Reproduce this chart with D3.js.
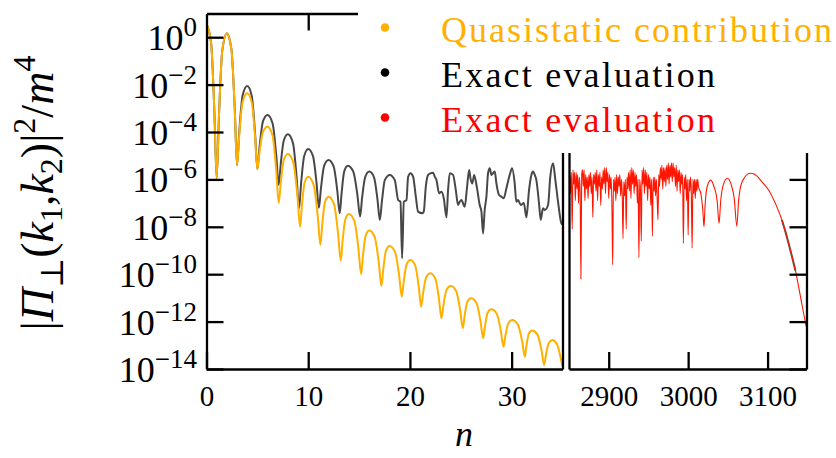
<!DOCTYPE html>
<html>
<head>
<meta charset="utf-8">
<script src="https://cdn.jsdelivr.net/npm/d3@7"></script>
<style>
  body { margin: 0; background: #fff; }
  svg { display: block; }
  text { font-family: "Liberation Serif", "DejaVu Serif", serif; }
</style>
</head>
<body>
<svg id="chart" width="836" height="458"></svg>
<script>
// values are [n, log10 |Pi|^2/m^4]
const quasistatic = [
  [0,0.55],[0.45,-0.23],[0.78,-3.22],[1,-5.95],[1.22,-3.38],[1.55,-0.57],
  [2,0.16],[2.45,-0.51],[2.78,-3.06],[3,-5.4],[3.22,-4.13],[3.55,-2.73],
  [4,-2.37],[4.45,-2.75],[4.78,-4.23],[5,-5.57],[5.22,-4.82],[5.55,-3.99],
  [6,-3.78],[6.5,-4.17],[6.86,-5.65],[7.1,-7.0],[7.3,-6.13],[7.6,-5.18],
  [8,-4.93],[8.54,-5.3],[8.94,-6.71],[9.2,-8.0],[9.38,-7.11],[9.64,-6.14],
  [10,-5.89],[10.54,-6.24],[10.94,-7.56],[11.2,-8.77],[11.38,-7.91],[11.64,-6.97],
  [12,-6.73],[12.54,-7.05],[12.94,-8.3],[13.2,-9.43],[13.38,-8.6],[13.64,-7.7],
  [14,-7.46],[14.54,-7.76],[14.94,-8.93],[15.2,-10.0],[15.38,-9.23],[15.64,-8.38],
  [16,-8.16],[16.54,-8.44],[16.94,-9.52],[17.2,-10.5],[17.38,-9.79],[17.64,-9.01],
  [18,-8.81],[18.54,-9.07],[18.94,-10.05],[19.2,-10.95],[19.39,-10.3],[19.67,-9.59],
  [20.05,-9.4],[20.52,-9.64],[20.87,-10.54],[21.1,-11.37],[21.3,-10.78],[21.6,-10.13],
  [22,-9.96],[22.5,-10.19],[22.86,-11.06],[23.1,-11.86],[23.3,-11.29],[23.6,-10.66],
  [24,-10.5],[24.54,-10.71],[24.94,-11.53],[25.2,-12.28],[25.38,-11.75],[25.64,-11.17],
  [26,-11.02],[26.54,-11.22],[26.94,-11.99],[27.2,-12.7],[27.38,-12.19],[27.64,-11.63],
  [28,-11.48],[28.54,-11.67],[28.94,-12.4],[29.2,-13.06],[29.39,-12.59],[29.67,-12.07],
  [30.05,-11.93],[30.61,-12.12],[31.03,-12.83],[31.3,-13.48],[31.45,-13.02],[31.69,-12.51],
  [32,-12.38],[32.54,-12.55],[32.94,-13.22],[33.2,-13.83],[33.38,-13.39],[33.64,-12.91],
  [34,-12.78],[34.45,-12.95],[34.78,-13.45],[35,-13.9]
];

const exactLow = [
  [0,0.55],[0.45,-0.23],[0.78,-3.22],[1,-5.95],[1.22,-3.38],[1.55,-0.57],
  [2,0.16],[2.45,-0.51],[2.78,-3.06],[3,-5.4],[3.22,-4.0],[3.55,-2.46],
  [4,-2.06],[4.45,-2.48],[4.78,-4.1],[5,-5.57],[5.22,-4.61],[5.55,-3.55],
  [6,-3.28],[6.5,-3.64],[6.86,-5.0],[7.1,-6.24],[7.3,-5.34],[7.6,-4.36],
  [8,-4.1],[8.5,-4.47],[8.86,-5.91],[9.1,-7.22],[9.3,-6.17],[9.6,-5.02],
  [10,-4.72],[10.47,-5.02],[10.82,-6.16],[11.05,-7.2],[11.26,-6.35],[11.57,-5.42],
  [12,-5.18],[12.5,-5.45],[12.86,-6.48],[13.1,-7.43],[13.28,-6.59],[13.54,-5.66],
  [13.9,-5.42],[14.44,-5.68],[14.84,-6.67],[15.1,-7.57],[15.3,-6.77],[15.6,-5.9],
  [16,-5.67],[16.47,-5.91],[16.81,-6.85],[17.04,-7.71],[17.25,-6.91],[17.53,-6.03],
  [18.02,-5.81],[18.51,-6.03],[18.84,-6.87],[19.07,-6.94],[19.23,-9.33],[19.4,-6.94],
  [19.66,-6.87],[19.82,-5.9],[20.05,-5.74],[20.31,-5.88],[20.58,-6.73],[20.8,-7.36],
  [21.23,-7.43],[21.36,-7.36],[21.56,-6.31],[21.79,-5.81],[22,-5.75],[22.28,-5.72],
  [22.44,-5.88],[22.61,-6.03],[22.87,-6.59],[23.1,-6.52],[23.33,-6.8],[23.59,-7.6],
  [23.75,-6.45],[23.92,-5.74],[24.24,-5.81],[24.51,-6.45],[24.73,-7.08],[24.9,-6.94],
  [25.06,-6.87],[25.39,-7.15],[25.62,-6.31],[25.82,-5.6],[25.95,-5.95],[26.14,-6.17],
  [26.31,-5.81],[26.6,-6.38],[26.86,-7.08],[27.03,-7.36],[27.19,-8.28],[27.35,-7.29],
  [27.52,-6.73],[27.68,-5.74],[27.85,-5.53],[28.01,-5.81],[28.17,-5.74],[28.34,-5.67],
  [28.5,-6.17],[28.76,-6.66],[28.99,-6.73],[29.22,-6.8],[29.48,-6.38],[29.81,-5.81],
  [30.04,-5.53],[30.3,-6.17],[30.46,-6.94],[30.63,-6.87],[30.9,-7.08],[31.2,-7.0],
  [31.45,-7.6],[31.71,-6.45],[31.94,-5.81],[32.1,-5.67],[32.27,-5.81],[32.43,-6.03],
  [32.69,-7.0],[32.86,-7.71],[33.08,-7.22],[33.25,-7.29],[33.58,-7.08],[33.8,-5.88],
  [34.07,-5.32],[34.3,-6.03],[34.56,-6.94],[34.89,-7.85],[35,-7.9]
];

const exactHigh = [
  [2850,-6.3],[2851,-5.8],[2852,-6.6],[2853,-5.7],[2854,-8.1],[2855,-5.6],[2856,-6.2],
  [2857,-5.7],[2858,-6.9],[2859,-5.7],[2860,-6.4],[2861,-5.8],[2862,-7.0],[2863,-5.9],
  [2864,-6.5],[2865,-10.2],[2866,-5.8],[2867,-5.6],[2868,-6.3],[2869,-5.6],[2870,-6.9],
  [2871,-5.8],[2872,-6.4],[2873,-5.9],[2874,-6.8],[2875,-5.8],[2876,-6.3],[2877,-5.7],
  [2878,-6.6],[2879,-5.9],[2880,-7.6],[2881,-5.8],[2882,-6.2],[2883,-5.7],[2884,-6.5],
  [2885,-5.6],[2886,-6.9],[2887,-5.8],[2888,-6.3],[2889,-5.7],[2890,-7.1],[2891,-5.9],
  [2892,-6.4],[2893,-5.6],[2894,-6.2],[2895,-5.5],[2896,-6.6],[2897,-5.5],[2898,-6.1],
  [2899,-5.7],[2900,-6.8],[2901,-5.8],[2902,-6.4],[2903,-5.9],[2904,-7.0],[2905,-9.6],
  [2906,-6.0],[2907,-6.5],[2908,-5.9],[2909,-6.9],[2910,-5.8],[2911,-6.6],[2912,-5.9],
  [2913,-6.3],[2914,-5.8],[2915,-6.7],[2916,-6.0],[2917,-6.6],[2918,-8.5],[2919,-6.1],
  [2920,-6.7],[2921,-6.0],[2922,-8.1],[2923,-5.9],[2924,-6.4],[2925,-5.7],[2926,-6.5],
  [2927,-5.6],[2928,-6.8],[2929,-5.5],[2930,-6.2],[2931,-5.6],[2932,-6.6],[2933,-5.7],
  [2934,-6.3],[2935,-5.8],[2936,-7.0],[2937,-6.0],[2938,-9.3],[2939,-6.0],[2940,-6.5],
  [2941,-8.6],[2942,-5.6],[2943,-6.2],[2944,-5.5],[2945,-6.6],[2946,-5.6],[2947,-6.3],
  [2948,-5.7],[2949,-6.9],[2950,-5.8],[2951,-6.4],[2952,-5.9],[2953,-7.1],[2954,-6.0],
  [2955,-8.4],[2956,-5.9],[2957,-6.5],[2958,-5.9],[2959,-6.7],[2960,-6.0],[2961,-6.8],
  [2962,-7.7],[2963,-5.8],[2964,-6.3],[2965,-5.5],[2966,-6.0],[2967,-5.4],[2968,-6.4],
  [2969,-5.5],[2970,-6.1],[2971,-5.5],[2972,-6.3],[2973,-5.4],[2974,-6.0],[2975,-5.3],
  [2976,-6.2],[2977,-5.4],[2978,-5.9],[2979,-5.3],[2980,-6.1],[2981,-5.3],[2982,-5.9],
  [2983,-5.5],[2984,-6.3],[2985,-5.4],[2986,-6.5],[2987,-5.6],[2988,-6.1],[2989,-5.6],
  [2990,-6.6],[2991,-5.7],[2992,-6.2],[2993,-5.8],[2994,-8.7],[2995,-5.9],[2996,-6.4],
  [2997,-5.8],[2998,-6.9],[2999,-6.0],[3000,-8.35],[3001,-6.0],[3002,-6.5],[3003,-5.9],
  [3004,-6.6],[3005,-8.9],[3006,-6.0],[3007,-6.6],[3008,-6.0],[3009,-6.8],[3010,-6.0],
  [3011,-6.5],[3012,-6.0],[3013,-6.3],
  [3016,-6.6],[3018.5,-7.3],[3019.9,-8.0],[3021.5,-7.0],[3024,-6.3],[3028.3,-6.03],
  [3032.5,-6.3],[3036.5,-6.9],[3038.9,-7.85],[3041,-6.9],[3044.5,-6.2],[3049.4,-5.95],
  [3054,-6.2],[3058,-6.8],[3061.3,-7.97],[3063.5,-6.9],[3068,-6.1],[3078,-5.74],
  [3084.6,-5.8],[3092.9,-6.1],[3101.3,-6.45],[3109.7,-7.0],[3118,-7.71],[3126.5,-8.7],
  [3134.9,-9.82],[3143.4,-11.3],[3148.5,-12.2]
];

const exactHighBlack = [[3118,-7.71],[3122,-8.15],[3126.5,-8.7],[3131,-9.3],[3135,-9.85]];

const yTickExps = [0, -2, -4, -6, -8, -10, -12, -14];
const leftTicks = [0, 10, 20, 30];
const rightTicks = [2900, 3000, 3100];
const legendLabels = ["Quasistatic contribution", "Exact evaluation", "Exact evaluation"];
const legendColors = ["#ffb000", "#000000", "#ff0000"];

const serif = '"Liberation Serif", "DejaVu Serif", serif';
const svg = d3.select("#chart").style("font-family", serif);

const y = d3.scaleLog().domain([1e-14, 1e1]).range([369, 13.5]);
const xLeft = d3.scaleLinear().domain([0, 35]).range([206.5, 562.5]);
const xRight = d3.scaleLinear().domain([2850, 3149]).range([569, 806.5]);
const yTicks = yTickExps.map(e => Math.pow(10, e));

const defs = svg.append("defs");
defs.append("clipPath").attr("id", "clipL").append("rect")
  .attr("x", 206.5).attr("y", 13.5).attr("width", 356).attr("height", 355.5);
defs.append("clipPath").attr("id", "clipR").append("rect")
  .attr("x", 569).attr("y", 13.5).attr("width", 237.5).attr("height", 355.5);

const lineL = d3.line().x(d => xLeft(d[0])).y(d => y(Math.pow(10, d[1]))).curve(d3.curveMonotoneX);
const lineR = d3.line().x(d => xRight(d[0])).y(d => y(Math.pow(10, d[1]))).curve(d3.curveMonotoneX);

const gL = svg.append("g").attr("clip-path", "url(#clipL)");
gL.append("path").datum(exactLow).attr("d", lineL)
  .attr("fill", "none").attr("stroke", "#484848").attr("stroke-width", 2);
gL.append("path").datum(quasistatic).attr("d", lineL)
  .attr("fill", "none").attr("stroke", "#ffb000").attr("stroke-width", 2);

const gR = svg.append("g").attr("clip-path", "url(#clipR)");
gR.append("path").datum(exactHighBlack).attr("d", lineR)
  .attr("fill", "none").attr("stroke", "#555").attr("stroke-width", 2);
gR.append("path").datum(exactHigh).attr("d", lineR)
  .attr("fill", "none").attr("stroke", "#ff1500").attr("stroke-width", 1.1)
  .attr("stroke-linejoin", "round");

function styleAxis(g) {
  g.select(".domain").attr("stroke", "#000").attr("stroke-width", 2.3);
  g.selectAll(".tick line").attr("stroke", "#000").attr("stroke-width", 2.3);
  g.selectAll(".tick text").style("font-size", "29px").style("fill", "#000")
    .style("font-family", serif);
}

// left panel frame
svg.append("g").attr("transform", "translate(0,369)")
  .call(d3.axisBottom(xLeft).tickValues(leftTicks).tickSizeInner(-17).tickSizeOuter(0).tickPadding(16))
  .call(styleAxis);
svg.append("g").attr("transform", "translate(0,13.5)")
  .call(d3.axisTop(xLeft).tickValues(leftTicks.slice(1)).tickSizeInner(-17).tickSizeOuter(0).tickFormat(""))
  .call(styleAxis);
svg.append("g").attr("transform", "translate(206.5,0)")
  .call(d3.axisLeft(y).tickValues(yTicks).tickSizeInner(-17).tickSizeOuter(0).tickFormat(""))
  .call(styleAxis);
svg.append("g").attr("transform", "translate(562.5,0)")
  .call(d3.axisRight(y).tickValues([]).tickSizeOuter(0))
  .call(styleAxis);

// right panel frame
svg.append("g").attr("transform", "translate(0,369)")
  .call(d3.axisBottom(xRight).tickValues(rightTicks).tickFormat(d3.format("d"))
    .tickSizeInner(-17).tickSizeOuter(0).tickPadding(16))
  .call(styleAxis);
svg.append("g").attr("transform", "translate(569,0)")
  .call(d3.axisLeft(y).tickValues([]).tickSizeOuter(0))
  .call(styleAxis);
svg.append("g").attr("transform", "translate(806.5,0)")
  .call(d3.axisRight(y).tickValues(yTicks).tickSizeInner(-17).tickSizeOuter(0).tickFormat(""))
  .call(styleAxis);

// y tick labels 10^k
yTickExps.forEach(e => {
  const t = svg.append("text")
    .attr("x", 197).attr("y", y(Math.pow(10, e)) + 13)
    .attr("text-anchor", "end").style("font-family", serif)
    .style("font-size", "36px").style("fill", "#000");
  t.append("tspan").text("10");
  t.append("tspan").attr("dy", -14).style("font-size", "27px")
    .text(e === 0 ? "0" : "\u2212" + Math.abs(e));
});

// legend box covers the top right of the frame
svg.append("rect").attr("x", 358).attr("y", 0).attr("width", 478).attr("height", 153).attr("fill", "#fff");

const legend = svg.append("g");
legendLabels.forEach((lab, i) => {
  const cy = 27.5 + i * 45;
  legend.append("circle").attr("cx", 385).attr("cy", cy).attr("r", 4.3).attr("fill", legendColors[i]);
  legend.append("text").attr("x", 441).attr("y", cy + 14)
    .style("font-family", serif).style("font-size", "36px").style("fill", legendColors[i])
    .attr("textLength", i === 0 ? 391 : 274).attr("lengthAdjust", "spacing")
    .text(lab);
});

// x label
svg.append("text").attr("x", 464).attr("y", 446).attr("text-anchor", "middle")
  .style("font-family", serif).style("font-size", "36px").style("font-style", "italic")
  .style("fill", "#000").text("n");

// y label |Pi_perp(k1,k2)|^2/m^4
const ylab = svg.append("text").attr("transform", "translate(53,193) rotate(-90)")
  .attr("text-anchor", "middle").style("font-family", serif)
  .style("font-size", "46px").style("fill", "#000");
const parts = [
  ["|", 0, null, false], ["\u03A0", 0, null, true], ["\u22A5", 10, 32, false],
  ["(", -10, null, false], ["k", 0, null, true], ["1", 9, 32, false], [",", -9, null, false],
  ["k", 0, null, true], ["2", 9, 32, false], [")", -9, null, false], ["|", 0, null, false],
  ["2", -18, 32, false], ["/", 18, null, false], ["m", 0, null, true], ["4", -18, 32, false]
];
parts.forEach(p => {
  const ts = ylab.append("tspan").attr("dy", p[1]).text(p[0]);
  if (p[2]) ts.style("font-size", p[2] + "px");
  if (p[3]) ts.style("font-style", "italic");
});
</script>
</body>
</html>
